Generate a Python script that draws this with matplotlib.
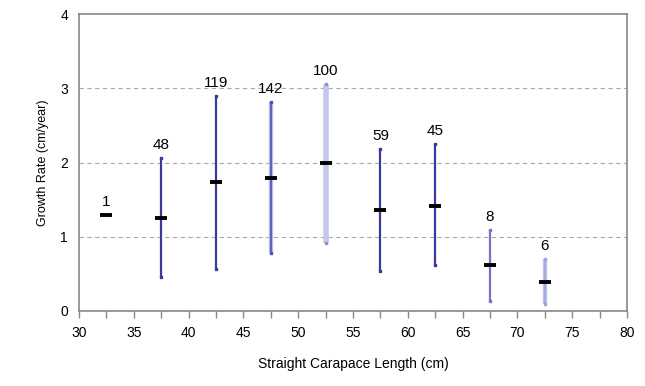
import matplotlib.pyplot as plt

plt.rcParams['font.family'] = ['Liberation Sans', 'DejaVu Sans']

# size class midpoints (cm) and growth rates (cm/year)
scl = [32.5, 37.5, 42.5, 47.5, 52.5, 57.5, 62.5, 67.5, 72.5]
mean_rate = [1.29, 1.25, 1.74, 1.79, 1.99, 1.36, 1.42, 0.62, 0.39]
max_rate = [1.29, 2.06, 2.90, 2.81, 3.06, 2.18, 2.25, 1.09, 0.70]
min_rate = [1.29, 0.46, 0.56, 0.78, 0.92, 0.54, 0.62, 0.13, 0.09]
n_obs = [1, 48, 119, 142, 100, 59, 45, 8, 6]

# (halo colour, halo width, core colour, core width) per bar
bar_style = [
    None,
    (None, 0, '#3a3a9e', 1.6),
    (None, 0, '#3a3a9e', 1.6),
    ('#b8bce6', 3.2, '#5050b0', 1.2),
    ('#c3c7ea', 4.0, None, 0),
    (None, 0, '#3a3a9e', 1.6),
    (None, 0, '#3a3a9e', 1.6),
    (None, 0, '#7474c4', 1.6),
    ('#c0c4ea', 3.2, '#a0a4da', 1.2),
]

fig = plt.figure(figsize=(6.45, 3.86), dpi=100)
ax = fig.add_axes([79 / 645, 1 - 311 / 386, 548 / 645, 297 / 386])

for x, m, lo, hi, n, st in zip(scl, mean_rate, min_rate, max_rate, n_obs, bar_style):
    if st is not None:
        halo, hw, core, cw = st
        if halo:
            ax.plot([x, x], [lo, hi], color=halo, lw=hw, solid_capstyle='butt', zorder=2)
        if core:
            ax.plot([x, x], [lo, hi], color=core, lw=cw, solid_capstyle='butt', zorder=2)
        cap_c = core if core else '#8a90d0'
        ax.plot([x, x], [lo, hi], ls='none', marker='s', ms=2, color=cap_c, zorder=2)
    ax.plot(x, m, marker='_', ms=8, mew=2.8, color='black', zorder=3)
    ax.text(x, max(hi, m) + 0.08, str(n), ha='center', va='bottom', fontsize=11)

ax.set_xlim(30, 80)
ax.set_ylim(0, 4)
ax.set_xticks(range(30, 81, 5))
ax.set_xticks([30 + 2.5 * i for i in range(21)], minor=True)
ax.set_yticks(range(0, 5))
ax.tick_params(axis='x', which='both', direction='out', length=5, width=1,
               color='#888888', labelsize=10, pad=6)
ax.tick_params(axis='y', length=0, labelsize=10, pad=8)
for s in ax.spines.values():
    s.set_color('#888888')
    s.set_linewidth(1.2)
for yv in [1, 2, 3]:
    ax.axhline(yv, color='#aaaaaa', lw=0.8, ls=(0, (4, 3)), zorder=1)

ax.set_xlabel('Straight Carapace Length (cm)', fontsize=10, labelpad=12)
ax.set_ylabel('Growth Rate (cm/year)', fontsize=9, labelpad=8)

fig.savefig('out.png', dpi=100)
